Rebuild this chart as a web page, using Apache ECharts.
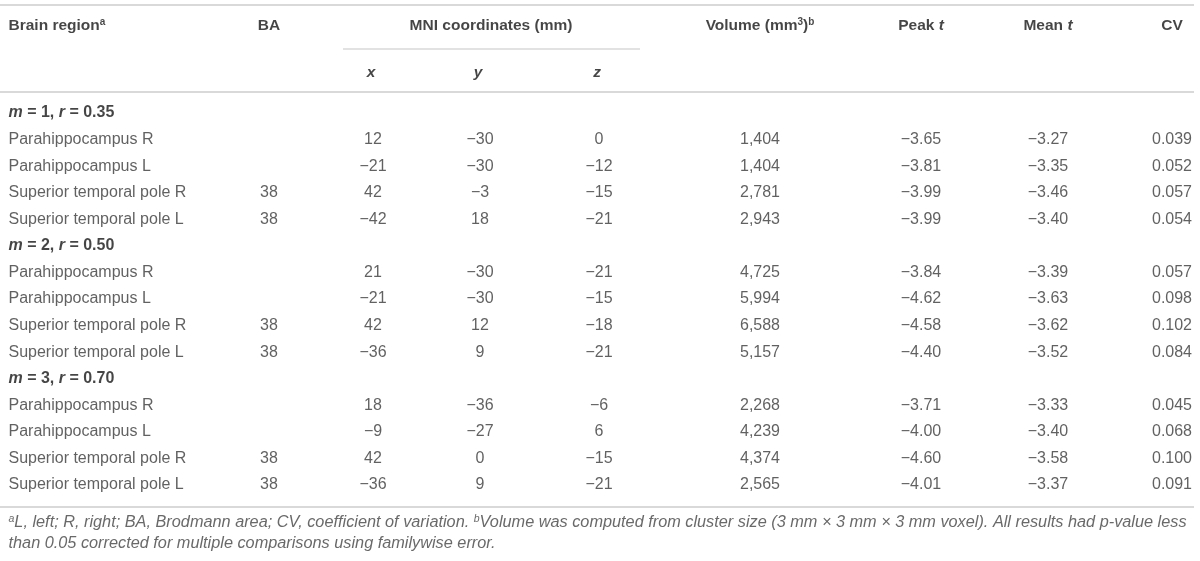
<!DOCTYPE html>
<html>
<head>
<meta charset="utf-8">
<script src="https://cdn.jsdelivr.net/npm/echarts@6/dist/echarts.min.js"></script>
<style>
  html, body { margin: 0; padding: 0; background: #fff; }
  #main { width: 1200px; height: 561px; }
</style>
</head>
<body>
<div id="main"></div>
<script>
// table values
var groupM = ['1', '2', '3'];
var groupR = ['0.35', '0.50', '0.70'];
var regionNames = ['Parahippocampus R', 'Parahippocampus L', 'Superior temporal pole R', 'Superior temporal pole L'];
var baCodes = ['', '', '38', '38'];
var mniX = [12, -21, 42, -42, 21, -21, 42, -36, 18, -9, 42, -36];
var mniY = [-30, -30, -3, 18, -30, -30, 12, 9, -36, -27, 0, 9];
var mniZ = [0, -12, -15, -21, -21, -15, -18, -21, -6, 6, -15, -21];
var volume = [1404, 1404, 2781, 2943, 4725, 5994, 6588, 5157, 2268, 4239, 4374, 2565];
var peakT = [-3.65, -3.81, -3.99, -3.99, -3.84, -4.62, -4.58, -4.40, -3.71, -4.00, -4.60, -4.01];
var meanT = [-3.27, -3.35, -3.46, -3.40, -3.39, -3.63, -3.62, -3.52, -3.33, -3.40, -3.58, -3.37];
var cvValues = [0.039, 0.052, 0.057, 0.054, 0.057, 0.098, 0.102, 0.084, 0.045, 0.068, 0.100, 0.091];

// header + footnote texts
var headTop = ['Brain region{sup|a}', 'BA', 'MNI coordinates (mm)', 'Volume (mm{sup|3}){sup|b}', 'Peak {it|t}', 'Mean {it|t}', 'CV'];
var headSub = ['x', 'y', 'z'];
var footLines = [
  '{sup|a}L, left; R, right; BA, Brodmann area; CV, coefficient of variation. {sup|b}Volume was computed from cluster size (3 mm \u00d7 3 mm \u00d7 3 mm voxel). All results had p-value less',
  'than 0.05 corrected for multiple comparisons using familywise error.'
];

// layout (column anchors, px)
var colX = { region: 8, ba: 269, x: 373, y: 480, z: 599, mni: 491, vol: 760, peak: 921, mean: 1048, cv: 1172 };
var FONT = '"Liberation Sans", Arial, Helvetica, sans-serif';

function minus(v, d) {
  var s = d == null ? String(Math.abs(v)) : Math.abs(v).toFixed(d);
  return (v < 0 ? '\u2212' : '') + s;
}
function thousands(v) {
  return String(v).replace(/\B(?=(\d{3})+(?!\d))/g, ',');
}

var rich = {
  sup: { fontSize: 10, lineHeight: 10, verticalAlign: 'top' },
  it: { fontStyle: 'italic' }
};

function textSeries(grid, x, align, cells, style) {
  return {
    type: 'scatter',
    xAxisIndex: grid,
    yAxisIndex: grid,
    silent: true,
    animation: false,
    symbolSize: 1,
    itemStyle: { color: 'rgba(0,0,0,0)' },
    data: cells.map(function (c) { return { value: [x, c.row], text: c.text }; }),
    label: Object.assign({
      show: true,
      position: align === 'left' ? 'right' : 'inside',
      distance: 0,
      fontFamily: FONT,
      fontSize: 16,
      color: '#3a3a3a',
      formatter: function (p) { return p.data.text; },
      rich: rich
    }, style || {})
  };
}

// body rows: group label row followed by its four regions
var bodyRows = [];
groupM.forEach(function (m, g) {
  bodyRows.push({ group: g });
  regionNames.forEach(function (n, k) { bodyRows.push({ idx: g * 4 + k, k: k }); });
});

function bodyCells(fn) {
  var out = [];
  bodyRows.forEach(function (r, i) {
    if (r.idx == null) return;
    var t = fn(r.idx, r.k);
    if (t !== '') out.push({ row: i, text: t });
  });
  return out;
}

var groupCells = [];
bodyRows.forEach(function (r, i) {
  if (r.group != null) {
    groupCells.push({ row: i, text: '{bi|m} = ' + groupM[r.group] + ', {bi|r} = ' + groupR[r.group] });
  }
});

var boldHead = { fontWeight: 'bold', fontSize: 15.5, color: '#161616', lineHeight: 18,
  rich: { sup: { fontSize: 10, lineHeight: 10, verticalAlign: 'top', fontWeight: 'bold' },
          it: { fontStyle: 'italic', fontWeight: 'bold' } } };
var boldItal = Object.assign({}, boldHead, { fontStyle: 'italic' });

var series = [
  // header rows (grid 0)
  textSeries(0, colX.region, 'left', [{ row: 0, text: headTop[0] }], boldHead),
  textSeries(0, colX.ba, 'center', [{ row: 0, text: headTop[1] }], boldHead),
  textSeries(0, colX.mni, 'center', [{ row: 0, text: headTop[2] }], boldHead),
  textSeries(0, colX.vol, 'center', [{ row: 0, text: headTop[3] }], boldHead),
  textSeries(0, colX.peak, 'center', [{ row: 0, text: headTop[4] }], boldHead),
  textSeries(0, colX.mean, 'center', [{ row: 0, text: headTop[5] }], boldHead),
  textSeries(0, colX.cv, 'center', [{ row: 0, text: headTop[6] }], boldHead),
  textSeries(0, colX.x - 2, 'center', [{ row: 1, text: headSub[0] }], boldItal),
  textSeries(0, colX.y - 2, 'center', [{ row: 1, text: headSub[1] }], boldItal),
  textSeries(0, colX.z - 2, 'center', [{ row: 1, text: headSub[2] }], boldItal),

  // body (grid 1)
  textSeries(1, colX.region, 'left', groupCells, {
    fontWeight: 'bold', fontSize: 16, color: '#161616',
    rich: { bi: { fontStyle: 'italic', fontWeight: 'bold' } }
  }),
  textSeries(1, colX.region, 'left', bodyCells(function (i, k) { return regionNames[k]; })),
  textSeries(1, colX.ba, 'center', bodyCells(function (i, k) { return baCodes[k]; })),
  textSeries(1, colX.x, 'center', bodyCells(function (i) { return minus(mniX[i]); })),
  textSeries(1, colX.y, 'center', bodyCells(function (i) { return minus(mniY[i]); })),
  textSeries(1, colX.z, 'center', bodyCells(function (i) { return minus(mniZ[i]); })),
  textSeries(1, colX.vol, 'center', bodyCells(function (i) { return thousands(volume[i]); })),
  textSeries(1, colX.peak, 'center', bodyCells(function (i) { return minus(peakT[i], 2); })),
  textSeries(1, colX.mean, 'center', bodyCells(function (i) { return minus(meanT[i], 2); })),
  textSeries(1, colX.cv, 'center', bodyCells(function (i) { return cvValues[i].toFixed(3); })),

  // footnote (grid 2)
  textSeries(2, colX.region, 'left', footLines.map(function (t, i) { return { row: i, text: t }; }), {
    fontStyle: 'italic', fontSize: 16.3, color: '#444', lineHeight: 18,
    rich: { sup: { fontSize: 10.5, lineHeight: 10, verticalAlign: 'top', fontStyle: 'italic' } }
  })
];

function idx(n) { var a = []; for (var i = 0; i < n; i++) a.push(String(i)); return a; }

var grids = [
  { left: 0, right: 0, top: 2.5, height: 94 },
  { left: 0, right: 0, top: 99.7, height: 398.6 },
  { left: 0, right: 0, top: 512, height: 42 }
];
var rowCounts = [2, bodyRows.length, footLines.length];

var ruleColor = '#d9d9d9';
var ruleEnd = 1194;
var myChart = echarts.init(document.getElementById('main'));
var option = {
  backgroundColor: '#fff',
  animation: false,
  grid: grids,
  xAxis: grids.map(function (g, i) {
    return { type: 'value', gridIndex: i, min: 0, max: 1200, show: false };
  }),
  yAxis: grids.map(function (g, i) {
    return { type: 'category', gridIndex: i, data: idx(rowCounts[i]), inverse: true, show: false };
  }),
  graphic: [
    { type: 'line', shape: { x1: 0, y1: 5, x2: ruleEnd, y2: 5 }, style: { stroke: ruleColor, lineWidth: 2 } },
    { type: 'line', shape: { x1: 343, y1: 49, x2: 640, y2: 49 }, style: { stroke: ruleColor, lineWidth: 1.5 } },
    { type: 'line', shape: { x1: 0, y1: 92, x2: ruleEnd, y2: 92 }, style: { stroke: ruleColor, lineWidth: 2 } },
    { type: 'line', shape: { x1: 0, y1: 507, x2: ruleEnd, y2: 507 }, style: { stroke: ruleColor, lineWidth: 2 } }
  ],
  series: series
};
myChart.setOption(option);
</script>
</body>
</html>
